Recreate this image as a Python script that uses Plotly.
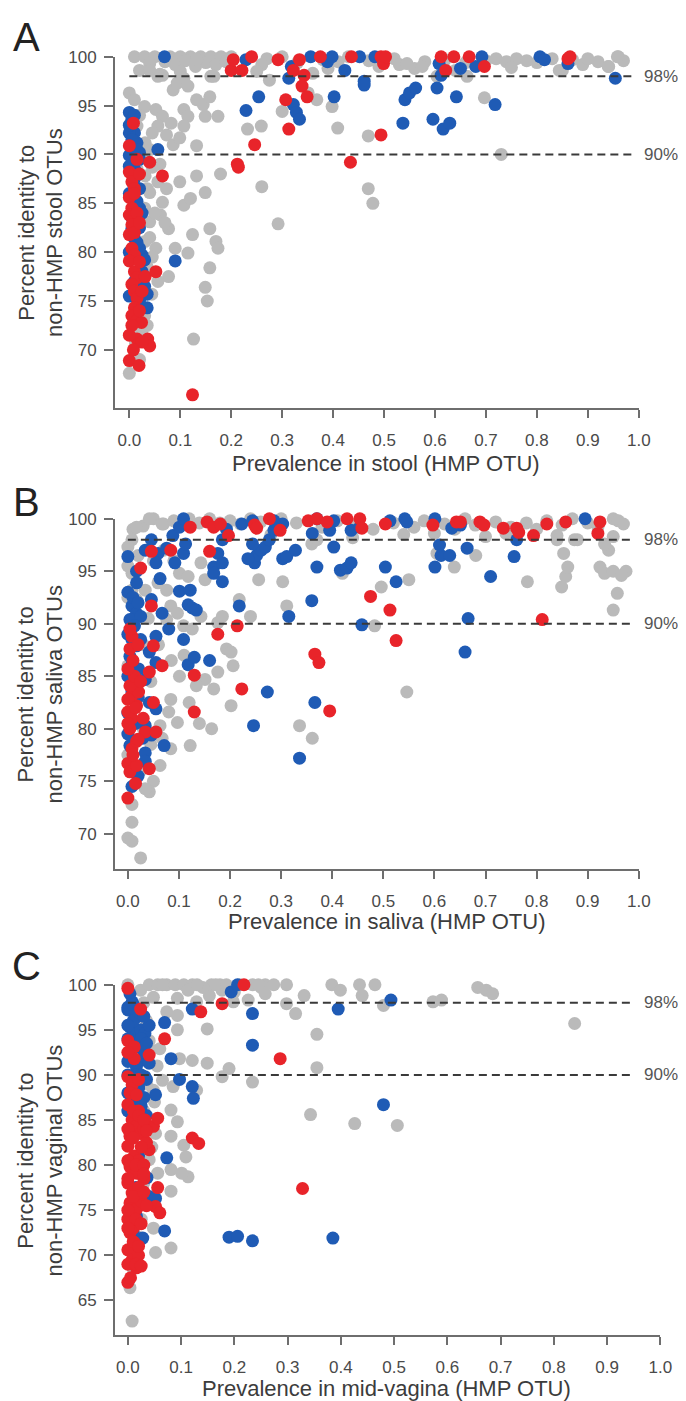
import plotly.graph_objects as go

# ---------------- Panel A (stool) ----------------
a_gray_x = [0.01,0.03,0.05,0.08,0.10,0.12,0.14,0.16,0.18,0.20,0.04,0.07,0.09,0.11,0.13,0.15,0.17,0.19,0.02,0.06,0.10,0.16,
            0.27,0.30,0.33,0.38,0.41,0.43,0.47,0.52,0.53,0.56,0.58,0.62,0.66,0.70,0.72,0.74,0.76,0.78,0.80,0.83,0.85,0.87,0.89,0.90,0.92,0.94,0.96,0.97,0.26,0.25,0.36,0.39,0.49,0.64,0.75,
            0.0,0.01,0.03,0.052,0.065,0.056,0.045,0.031,0.015,0.04,0.073,0.086,0.082,0.107,0.115,0.132,0.107,0.099,0.086,0.094,0.107,0.115,0.132,0.145,0.158,0.174,0.149,0.166,0.132,0.065,0.04,0.056,
            0.015,0.031,0.056,0.073,0.04,0.065,0.099,0.107,0.12,0.132,0.149,0.179,0.061,0.077,0.04,0.015,0.031,0.052,0.09,0.115,0.124,0.158,0.17,0.174,0.158,0.149,0.153,0.077,0.056,0.044,0.015,0.01,0.012,0.0,0.126,0.292,0.259,0.232,0.26,0.30,0.368,0.398,0.409,0.469,0.469,0.478,0.73,0.697,0.275,0.351,0.545,0.575,0.604,0.663,0.844,0.941,0.958,
            0.02,0.025,0.02,0.025,0.02,0.02,0.025,0.02,0.03,0.035,0.035,0.005,0.04,0.045,0.03,0.045,0.05,0.035,0.06,0.07]
a_gray_y = [100,100,100,100,100,100,100,100,100,100,99.3,99.5,99.2,99.6,99.0,99.4,99.2,99.5,98.6,98.2,98.5,98.0,
            99.8,100,99.4,99.7,99.5,100,99.6,99.8,99.2,98.8,99.5,99.7,99.4,99.6,99.8,99.5,99.8,99.6,99.4,99.8,98.6,99.7,99.2,99.8,99.5,99.0,100,99.6,99.2,98.5,98.3,98.8,99.0,98.6,98.9,
            96.3,95.6,94.9,94.6,93.9,92.9,92.2,91.2,92.9,90.5,92.0,91.0,93.2,94.6,93.9,90.9,92.9,91.7,96.6,97.3,97.8,97.0,95.6,95.1,95.9,93.9,93.9,98.0,99.7,98.1,98.6,98.0,
            88.5,87.8,87.2,86.5,86.1,85.1,87.2,84.8,85.5,87.8,86.1,88.0,83.8,82.4,83.1,82.4,81.1,80.4,80.4,79.9,81.8,82.4,81.1,80.4,78.4,76.4,75.0,77.5,77.0,75.7,74.7,73.0,70.6,67.6,71.1,82.9,92.9,92.6,86.7,94.4,95.6,94.9,92.7,91.9,86.5,85.0,90.0,95.8,97.6,96.3,99.3,99.0,98.0,98.0,98.6,99.0,100,
            69.0,72.0,76.0,79.0,84.0,86.5,90.0,94.0,84.5,78.5,72.5,71.5,81.5,88.7,73.5,79.5,84.0,86.5,89.0,83.0]
a_blue_x = [0.069,0.229,0.254,0.313,0.322,0.328,0.334,0.318,0.356,0.389,0.398,0.402,0.423,0.452,0.461,0.461,0.482,0.537,0.541,0.55,0.562,0.596,0.604,0.608,0.612,0.616,0.629,0.642,0.65,0.68,0.692,0.718,0.806,0.815,0.861,0.954,0.09,0.229,
            0.0,0.005,0.01,0.015,0.02,0.0,0.01,0.02,0.005,0.01,0.025,0.03,0.035,0.035,0.02,0.0,0.005,0.056,0.02,0.0,0.005,0.0,0.01,0.0,
            0.0,0.01,0.005,0.015,0.0,0.01,0.02,0.015,0.025,0.02,0.015,0.025,0.03,0.02]
a_blue_y = [100,94.5,95.9,97.8,95.1,94.3,93.6,99.0,100,99.5,100,95.9,98.6,100,97.5,97.1,100,93.2,95.6,96.3,96.8,93.6,96.8,99.3,98.1,92.6,93.2,95.9,98.8,99.0,100,95.1,100,99.7,99.3,97.8,79.1,99.7,
            94.3,93.6,92.2,91.2,89.5,89.9,88.5,84.5,82.4,81.4,79.7,79.2,75.7,74.3,80.4,92.2,90.7,90.5,90.2,86.0,83.5,80.0,77.0,75.5,
            93.0,94.0,91.5,90.5,88.8,87.5,86.5,85.2,84.0,82.5,81.0,78.0,76.5,75.0]
a_red_x = [0.008,0.0,0.04,0.065,0.0,0.005,0.01,0.0,0.005,0.0,0.005,0.0,0.005,0.01,0.0,0.01,0.015,0.005,0.01,0.015,0.01,0.005,0.015,0.024,0.005,0.015,0.036,0.04,0.0,0.019,0.031,0.052,
           0.124,0.212,0.214,0.246,0.2,0.204,0.221,0.24,0.292,0.307,0.313,0.322,0.334,0.343,0.339,0.349,0.375,0.434,0.436,0.494,0.499,0.503,0.494,0.612,0.621,0.637,0.667,0.697,0.861,0.865,
           0.015,0.02,0.015,0.01,0.02,0.025,0.02,0.025,0.008,0.0,0.01,0.02]
a_red_y = [93.2,90.9,89.2,87.8,88.2,87.2,86.5,85.6,84.5,83.8,82.8,81.8,80.4,79.7,79.1,78.0,77.4,76.7,76.0,75.3,74.3,73.5,73.0,72.8,72.5,71.1,71.1,70.4,68.9,68.4,77.5,78.0,
           65.4,89.0,88.7,91.0,98.6,99.7,98.6,100,99.7,95.6,92.6,98.6,99.7,98.1,97.0,95.9,100,89.2,100,100,99.3,100,92.0,100,98.6,100,100,99.0,99.8,100,
           89.5,88.0,84.0,82.0,79.0,76.0,74.0,70.8,70.0,71.5,86.0,83.0]

# ---------------- Panel B (saliva) ----------------
b_gray_x = [0.01,0.03,0.05,0.07,0.09,0.12,0.14,0.16,0.18,0.20,0.22,0.24,0.26,0.30,0.33,0.38,0.41,0.45,0.48,0.52,0.56,0.58,0.62,0.64,0.66,0.68,0.72,0.75,0.78,0.80,0.82,0.85,0.87,0.90,0.92,0.95,0.96,0.97,0.28,0.36,0.44,0.54,0.60,0.70,0.74,0.84,0.88,
            0.017,0.042,0.067,0.008,0.0,0.008,0.008,0.017,0.034,0.059,0.076,0.084,0.101,0.118,0.097,0.076,0.109,0.126,0.143,0.151,0.143,0.176,0.185,0.193,0.202,0.206,0.176,0.168,0.151,0.134,0.101,0.084,0.08,0.097,0.063,0.067,0.084,0.063,0.05,0.042,0.034,0.008,0.008,0.0,0.008,0.025,
            0.122,0.164,0.202,0.24,0.218,0.256,0.303,0.311,0.336,0.361,0.37,0.42,0.483,0.496,0.546,0.55,0.605,0.639,0.681,0.782,0.853,0.849,0.857,0.861,0.84,0.874,0.924,0.933,0.941,0.95,0.958,0.95,0.975,0.966,0.95,0.933,
            0.0,0.02,0.0,0.03,0.0,0.02,0.03,0.0,0.025,0.045,0.04,0.05,0.07,0.09,0.06,0.085,0.11,0.12,0.14,0.045]
b_gray_y = [99.0,99.3,100,99.5,99.8,100,99.6,100,99.6,99.8,99.5,100,99.7,100,99.6,99.2,99.8,99.5,99.0,99.6,99.2,99.8,99.5,99.0,100,99.4,99.7,99.2,99.6,99.0,99.8,99.4,100,99.6,99.2,100,99.8,99.5,98.5,97.6,98.2,98.5,98.6,98.3,98.6,98.4,98.0,
            99.2,100,99.5,98.0,97.3,94.8,93.2,92.3,93.2,93.9,93.2,91.7,94.8,94.5,91.0,90.4,89.8,89.5,90.7,94.2,95.8,90.1,90.7,87.6,87.3,86.0,85.4,83.8,84.7,84.1,85.0,82.8,81.6,80.6,80.3,79.1,78.1,76.5,75.0,74.0,74.3,72.8,71.1,69.6,69.3,67.7,
            78.4,80.0,82.2,90.7,92.3,94.2,94.0,91.7,80.3,79.1,98.0,94.8,89.8,93.5,83.5,94.2,96.7,95.4,96.5,94.0,96.7,93.5,94.5,95.4,98.0,98.0,95.4,94.8,97.0,95.0,92.9,91.3,95.0,94.6,98.3,97.6,
            95.5,96.5,92.5,88.0,86.0,83.0,80.0,77.5,76.0,84.5,90.5,96.0,97.0,96.0,88.0,86.5,87.0,82.5,80.5,78.5]
b_blue_x = [0.0,0.017,0.017,0.008,0.017,0.004,0.025,0.013,0.008,0.017,0.004,0.008,0.021,0.034,0.017,0.008,0.042,0.055,0.034,0.046,0.029,0.071,0.034,0.004,0.008,0.034,
            0.046,0.034,0.059,0.055,0.063,0.076,0.088,0.101,0.109,0.092,0.109,0.113,0.101,0.122,0.118,0.126,0.134,0.067,0.046,0.055,0.08,0.109,0.118,0.13,0.16,0.055,0.042,
            0.176,0.168,0.185,0.185,0.168,0.185,0.193,0.218,0.223,0.244,0.248,0.252,0.261,0.269,0.277,0.286,0.303,0.286,0.244,0.235,0.303,0.311,0.328,0.315,0.273,0.246,0.336,
            0.36,0.366,0.37,0.361,0.37,0.395,0.403,0.416,0.429,0.437,0.437,0.403,0.454,0.458,0.504,0.513,0.525,0.542,0.546,0.601,0.601,0.61,0.613,0.63,0.634,0.651,0.664,0.666,0.66,0.71,0.756,0.761,0.895,
            0.0,0.01,0.02,0.0,0.025,0.0,0.02,0.0,0.015,0.0,0.02]
b_blue_y = [96.4,95.0,93.9,91.7,91.0,90.4,90.7,89.8,88.5,87.9,86.9,86.1,85.7,84.7,84.1,83.5,82.5,81.9,80.3,79.4,79.1,78.4,77.7,78.4,74.5,76.9,
            98.0,97.0,96.7,95.8,94.3,97.2,98.4,99.2,100,95.8,96.7,97.6,93.1,93.2,91.8,91.5,91.3,91.0,92.3,88.8,89.5,88.5,86.1,86.8,86.5,86.3,87.3,
            96.7,95.4,95.8,94.0,94.8,98.0,99.0,91.7,99.5,99.8,95.8,96.5,97.0,97.3,98.0,98.9,99.5,99.8,97.6,96.2,96.2,96.4,97.0,90.7,83.5,80.3,77.2,
            92.2,82.5,95.4,98.6,100,98.9,97.3,95.1,95.3,95.8,98.9,99.8,99.2,89.9,95.4,99.8,94.0,100,99.7,100,95.4,97.5,96.5,96.5,99.1,99.4,97.2,90.5,87.3,94.5,96.4,98.0,100,
            93.0,92.5,92.0,89.0,88.5,85.0,83.0,81.5,80.5,79.5,75.5]
b_red_x = [0.0,0.0,0.004,0.017,0.042,0.008,0.017,0.004,0.008,0.0,0.017,0.008,0.021,0.004,0.013,0.0,0.034,0.055,0.05,0.042,0.067,0.05,0.004,0.008,0.004,0.046,0.025,0.046,0.084,
           0.122,0.13,0.13,0.155,0.16,0.168,0.176,0.181,0.197,0.214,0.223,0.248,0.252,0.277,0.298,0.366,0.374,0.395,0.353,0.37,0.39,0.429,0.454,0.458,0.475,0.513,0.525,0.504,
           0.597,0.643,0.651,0.689,0.697,0.735,0.761,0.765,0.794,0.811,0.82,0.857,0.92,0.924,
           0.01,0.02,0.0,0.015,0.025,0.01,0.02,0.0,0.03,0.015]
b_red_y = [73.4,76.7,75.9,76.5,76.2,78.1,78.8,80.0,81.0,81.6,82.2,83.2,83.5,84.1,85.0,85.7,79.7,79.7,82.5,85.4,86.0,87.9,87.6,88.8,89.5,91.7,95.3,96.9,97.0,
           99.2,81.6,85.1,99.7,96.9,99.2,89.0,99.5,98.4,89.8,83.8,99.4,99.1,100,98.9,87.1,86.3,81.7,99.8,100,99.7,100,100,99.1,92.6,91.3,88.4,99.5,
           99.4,99.7,99.7,99.7,99.4,99.1,99.1,98.7,98.4,90.4,99.5,99.7,98.6,99.7,
           77.5,79.0,82.8,82.0,84.5,86.5,88.0,80.5,81.0,74.8]

# ---------------- Panel C (mid-vagina) ----------------
c_gray_x = [0.0,0.024,0.04,0.056,0.073,0.089,0.105,0.121,0.157,0.173,0.21,0.234,0.258,0.274,0.25,0.258,0.226,0.198,0.129,0.153,0.141,0.177,0.113,0.048,0.093,
            0.298,0.331,0.315,0.298,0.383,0.399,0.435,0.44,0.464,0.48,0.573,0.589,0.657,0.673,0.685,0.839,0.355,0.355,0.343,0.426,0.506,0.234,0.19,0.177,0.149,0.149,0.121,0.129,
            0.093,0.093,0.097,0.085,0.081,0.093,0.081,0.052,0.105,0.109,0.113,0.101,0.081,0.081,0.048,0.052,0.081,0.008,0.004,0.04,0.056,0.048,0.065,0.06,0.04,0.073,
            0.03,0.035,0.04,0.035,0.03,0.035,0.03,0.03,0.03,0.025,0.02,0.015,0.01,0.045,0.05,0.055,0.065,0.13,0.165,0.185,0.2,0.245]
c_gray_y = [100,99.4,100,100,100,100,100,100,100,100,100,100,100,100,99.7,99.0,98.3,98.1,98.1,98.8,99.7,99.4,99.4,98.6,98.5,
            100,98.8,96.8,97.9,100,99.4,100,98.8,100,97.7,98.1,98.3,99.7,99.4,99.0,95.7,94.5,90.8,85.6,84.6,84.4,89.2,90.7,89.8,95.1,91.3,91.6,88.3,
            95.0,96.6,91.8,88.7,86.1,84.8,83.2,83.5,82.2,80.9,78.7,79.1,79.5,77.1,73.0,70.3,70.8,62.7,66.4,80.6,79.1,88.3,89.4,92.9,93.8,97.0,
            98.0,96.0,93.0,89.0,86.0,84.0,80.0,78.0,76.0,74.0,72.0,69.0,68.5,82.0,87.0,91.0,100,100,100,100,99.2,100]
c_blue_x = [0.004,0.008,0.0,0.016,0.004,0.012,0.024,0.032,0.04,0.016,0.004,0.024,0.04,0.016,0.032,0.02,0.008,0.024,0.012,0.016,0.016,0.02,0.016,0.008,0.028,0.036,0.04,0.052,
            0.069,0.081,0.097,0.073,0.069,0.052,0.121,0.123,0.121,0.194,0.206,0.19,0.206,0.234,0.234,0.234,0.385,0.395,0.48,0.494,
            0.01,0.02,0.03,0.015,0.0,0.0,0.0,0.02,0.03,0.035,0.01,0.005,0.01,
            0.0,0.01,0.02,0.03,0.0,0.01,0.025,0.035,0.0,0.025,0.01,0.035,0.0,0.025,0.03,0.02,0.025,0.015,0.02,0.01]
c_blue_y = [99.0,98.1,97.2,96.4,95.3,94.2,95.0,94.6,95.5,93.1,92.2,91.6,91.3,90.9,89.8,88.7,87.8,86.8,85.9,87.2,80.9,76.9,74.3,73.6,71.9,78.6,76.5,76.3,
            95.8,91.8,89.5,80.8,72.7,87.8,88.7,87.4,97.3,99.2,100,72.0,72.1,71.6,96.8,93.3,71.9,97.3,86.7,98.3,
            96.0,93.5,92.5,90.0,95.5,91.5,88.0,88.5,87.5,85.5,84.8,80.0,73.0,
            97.5,97.8,97.0,96.5,94.0,93.0,94.0,93.5,90.0,90.0,89.0,89.5,86.0,86.5,84.0,81.0,79.0,77.5,75.5,72.5]
c_red_x = [0.0,0.024,0.0,0.012,0.012,0.0,0.008,0.004,0.016,0.0,0.008,0.016,0.004,0.024,0.0,0.012,0.004,0.016,0.0,0.008,0.004,0.016,0.0,0.004,0.012,0.0,0.008,0.016,0.0,
           0.04,0.048,0.056,0.052,0.06,0.056,0.069,0.04,0.032,0.121,0.133,0.137,0.177,0.218,0.286,0.328,
           0.02,0.03,0.025,0.01,0.035,0.02,0.03,0.02,
           0.01,0.02,0.03,0.0,0.035,0.01,0.025,0.0,0.015,0.03,0.0,0.02,0.01,0.03,0.0,0.015,0.025,0.0,0.01,0.02,0.0,0.015,0.025,0.005,0.02,0.0,0.03,0.035]
c_red_y = [99.6,97.3,93.8,93.1,91.8,89.8,88.9,88.0,87.8,86.7,85.0,84.3,83.2,83.5,82.1,81.0,79.8,79.1,78.0,76.9,75.8,75.1,74.0,72.5,71.4,70.6,69.5,68.6,67.0,
           81.7,84.3,77.5,75.4,74.7,85.2,94.0,92.2,85.0,83.0,82.4,97.0,97.9,100,91.8,77.4,
           80.5,78.5,76.0,73.0,82.5,70.0,84.0,86.0,
           86.0,85.5,85.0,84.0,83.8,83.0,82.0,80.5,80.0,80.0,78.5,77.5,76.5,77.0,75.0,74.0,73.5,73.0,71.5,71.0,69.0,69.0,68.8,67.5,89.5,92.5,79.0,75.5]

x_tick_vals = [0.0,0.1,0.2,0.3,0.4,0.5,0.6,0.7,0.8,0.9,1.0]
x_tick_text = ["0.0","0.1","0.2","0.3","0.4","0.5","0.6","0.7","0.8","0.9","1.0"]
y_ticks_ab = [70,75,80,85,90,95,100]
y_ticks_c = [65,70,75,80,85,90,95,100]
thresholds = [98, 90]
threshold_labels = ["98%", "90%"]
panel_letters = ["A", "B", "C"]
x_titles = ["Prevalence in stool (HMP OTU)", "Prevalence in saliva (HMP OTU)", "Prevalence in mid-vagina (HMP OTU)"]
y_titles = ["Percent identity to<br>non-HMP stool OTUs", "Percent identity to<br>non-HMP saliva OTUs",
            "Percent identity to<br>non-HMP vaginal OTUs"]

W, H = 686, 1401
GRAY, BLUE, RED = "#bababa", "#1f5bb5", "#e8242a"
AXC = "#6e6e6e"
FONT = "Liberation Sans, Arial, Helvetica, sans-serif"
MS = 13

# pixel geometry of each panel
panels = [
    dict(left=109, x0=123.5, x1=642, top=40, bottom=394, ymin=64.0, yt=y_ticks_ab, dash_end=0.99, title=449, letter=20),
    dict(left=109, x0=122, x1=642, top=505, bottom=858, ymin=66.6, yt=y_ticks_ab, dash_end=0.985, title=910, letter=488),
    dict(left=109, x0=122, x1=664, top=974, bottom=1327, ymin=61.1, yt=y_ticks_c, dash_end=0.945, title=1380, letter=955),
]
data = [
    (a_gray_x, a_gray_y, a_blue_x, a_blue_y, a_red_x, a_red_y),
    (b_gray_x, b_gray_y, b_blue_x, b_blue_y, b_red_x, b_red_y),
    (c_gray_x, c_gray_y, c_blue_x, c_blue_y, c_red_x, c_red_y),
]

fig = go.Figure()
layout = dict(width=W, height=H, margin=dict(l=0, r=0, t=0, b=0), paper_bgcolor="white",
              plot_bgcolor="white", showlegend=False, font=dict(family=FONT, color="#444"))
shapes, annotations = [], []

for i, (p, d) in enumerate(zip(panels, data)):
    n = "" if i == 0 else str(i + 1)
    xa, ya = "x" + n, "y" + n
    for xs, ys, col in [(d[0], d[1], GRAY), (d[2], d[3], BLUE), (d[4], d[5], RED)]:
        fig.add_trace(go.Scatter(x=xs, y=ys, mode="markers", xaxis=xa, yaxis=ya, cliponaxis=False,
                                 marker=dict(size=MS, color=col, line=dict(width=0)), hoverinfo="skip"))
    scale = (p["x1"] - p["x0"])
    xmin = -(p["x0"] - p["left"]) / scale
    layout["xaxis" + n] = dict(domain=[p["left"] / W, p["x1"] / W], range=[xmin, 1.0], anchor=ya,
                               showline=True, linecolor=AXC, linewidth=2, ticks="outside", ticklen=8,
                               tickwidth=1.5, tickcolor=AXC, tickvals=x_tick_vals, ticktext=x_tick_text,
                               showgrid=False, zeroline=False, ticklabelstandoff=7,
                               tickfont=dict(size=17, color="#4a4a4a", family=FONT))
    layout["yaxis" + n] = dict(domain=[1 - p["bottom"] / H, 1 - p["top"] / H], range=[p["ymin"], 100],
                               anchor=xa, showline=True, linecolor=AXC, linewidth=2, ticks="outside",
                               ticklen=9, tickwidth=1.5, tickcolor=AXC, tickvals=p["yt"],
                               showgrid=False, zeroline=False, ticklabelstandoff=4,
                               tickfont=dict(size=17, color="#4a4a4a", family=FONT))
    for t, lab in zip(thresholds, threshold_labels):
        shapes.append(dict(type="line", xref=xa, yref=ya, x0=0, x1=p["dash_end"], y0=t, y1=t,
                           line=dict(color="#3a3a3a", width=2, dash="8px,5px"), layer="above"))
        annotations.append(dict(text=lab, xref="paper", yref=ya, x=645 / W, y=t, xanchor="left",
                                yanchor="middle", showarrow=False, font=dict(size=17, color="#555")))
    cy = (p["top"] + p["bottom"]) / 2
    annotations.append(dict(text=y_titles[i], xref="paper", yref="paper", x=33 / W, y=1 - cy / H,
                            textangle=-90, xanchor="center", yanchor="middle", showarrow=False,
                            font=dict(size=22, color="#3c3c3c")))
    annotations.append(dict(text=x_titles[i], xref="paper", yref="paper", x=385 / W, y=1 - p["title"] / H,
                            xanchor="center", yanchor="middle", showarrow=False,
                            font=dict(size=22, color="#3c3c3c")))
    annotations.append(dict(text=panel_letters[i], xref="paper", yref="paper", x=19 / W, y=1 - p["letter"] / H,
                            xanchor="center", yanchor="middle", showarrow=False,
                            font=dict(size=40, color="#222")))

layout["shapes"] = shapes
layout["annotations"] = annotations
fig.update_layout(**layout)
fig.write_html("out.html")
